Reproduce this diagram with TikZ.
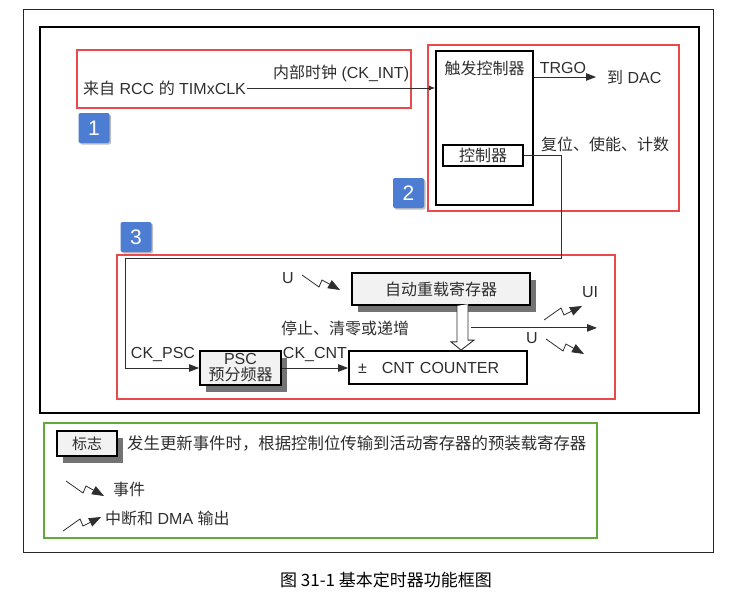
\documentclass[tikz,border=0pt]{standalone}
\usepackage{fontspec}
\setmainfont{Liberation Sans}
\newfontfamily\cjk{Noto Sans CJK SC}
\newcommand{\zh}[1]{{\cjk #1}}
\usetikzlibrary{arrows.meta,calc,positioning,shadows}
\definecolor{framered}{HTML}{E8494B}
\definecolor{badgeblue}{HTML}{4D7DD3}
\definecolor{legendgreen}{HTML}{62A83A}
\definecolor{ink}{HTML}{2E2E2E}
\tikzset{
  box/.style={draw, line width=1.8pt, inner sep=0pt, fill=white},
  regbox/.style={box, fill=black!5, drop shadow={shadow xshift=6pt, shadow yshift=-7pt, fill=black!55, opacity=1}},
  redframe/.style={draw=framered, line width=2.8pt},
  badge/.style={fill=badgeblue, text=white, rounded corners=2pt, minimum width=31pt, minimum height=30pt, inner sep=0pt,
    font=\fontsize{21}{21}\selectfont, drop shadow={shadow xshift=1.5pt, shadow yshift=-1.5pt, fill=black!25, opacity=1}},
  wire/.style={draw=ink, line width=0.9pt},
  fwd/.style={-{Triangle[length=10pt,width=7.5pt]}},
  zig/.style={draw=ink, line width=0.8pt, -{Triangle[length=12pt,width=9pt]}},
  evsym/.pic={\draw[zig] (0,0) -- (17,12) -- (20,5) -- (38,15);},
  irqsym/.pic={\draw[zig] (0,0) -- (17,-12) -- (20,-5) -- (38,-14);}
}
\begin{document}
\begin{tikzpicture}[x=1pt, y=-1pt, font=\fontsize{16}{19}\selectfont, text=ink]
  \useasboundingbox (0,0) rectangle (755,597);
  \draw[black!85, line width=1pt] (23,9) rectangle (713,552);
  \draw[line width=2.8pt] (40,27) rectangle (699,413);
  \draw[redframe] (77,50) rectangle (411,108);
  \draw[redframe] (428,45) rectangle (679,211);
  \draw[redframe] (117,255) rectangle (615,399);
  \draw[draw=legendgreen, line width=2.8pt] (44,423) rectangle (597,538);

  \node[badge] (b1) at (94,128) {1};
  \node[badge] (b2) at (408.5,193) {2};
  \node[badge] (b3) at (136,237) {3};

  \node (clk) [anchor=west, inner sep=1pt] at (82,88) {\zh{来自} RCC \zh{的} TIMxCLK};
  \node (trig) [box, minimum width=97pt, minimum height=154pt] at (484.5,128) {};
  \node (trigtxt) [below=7pt of trig.north] {\zh{触发控制器}};
  \node (ctl) [box, minimum width=80pt, minimum height=21pt] at (483,155.5) {\zh{控制器}};
  \node (dac) [anchor=west, inner sep=1pt] at (606,77) {\zh{到} DAC};
  \node (rst) [anchor=west, inner sep=1pt] at (540,144) {\zh{复位、使能、计数}};

  \node (reload) [regbox, minimum width=178pt, minimum height=32pt] at (441,289) {\zh{自动重载寄存器}};
  \node (cnt) [box, minimum width=178pt, minimum height=33pt, text width=160pt, align=left] at (438,367.5) {±\hspace{15pt}CNT COUNTER};
  \node (psc) [regbox, minimum width=81pt, minimum height=34pt, align=center, font=\fontsize{16}{16}\selectfont] at (240.5,368) {PSC\\\zh{预分频器}};
  \node (ckpsc) at (163,354) {CK\_PSC};
  \node (ckcnt) at (315,355) {CK\_CNT};
  \node (hold) at (345,328) {\zh{停止、清零或递增}};
  \node (u1) at (288,278) {U};
  \node (ui) at (590,292) {UI};
  \node (u2) at (532,338) {U};
  \pic at (302,275) {evsym};
  \pic at (544,320) {irqsym};
  \pic at (546,339) {evsym};

  \node (flag) [regbox, minimum width=60pt, minimum height=25pt, font=\fontsize{15}{15}\selectfont] at (87,443.5) {\zh{标志}};
  \node (flagtxt) [anchor=west, inner sep=1pt, font=\fontsize{16.4}{19}\selectfont] at (126,443) {\zh{发生更新事件时，根据控制位传输到活动寄存器的预装载寄存器}};
  \pic at (66,481) {evsym};
  \node (evtxt) [anchor=west, inner sep=1pt] at (112,489) {\zh{事件}};
  \pic at (63,531) {irqsym};
  \node (irqtxt) [anchor=west, inner sep=1pt] at (104,518) {\zh{中断和} DMA \zh{输出}};
  \node (cap) [text=black, font=\fontsize{17}{19}\selectfont] at (386,580) {\zh{图 31-1 基本定时器功能框图}};

  \coordinate (ctlturn) at (561,258);
  \coordinate (pscturn) at (125,258);
  \begin{scope}[wire]
    \draw[-{Latex[length=6pt,width=5pt]}] (clk.east) -- node[above, yshift=2pt] {\zh{内部时钟} (CK\_INT)} (clk.east -| trig.west);
    \draw[fwd, shorten >=10pt] (dac.west -| trig.east) -- node[above, xshift=-7pt] {TRGO} (dac.west);
    \draw[fwd] (ctl.east) -| (ctlturn) -- (pscturn) |- (psc.west);
    \draw[fwd] (psc.east) -- (psc.east -| cnt.west);
    \draw[fwd] ($(reload.south)+(30,22)$) -- ++(126,0);
    \draw[fill=white] ($(reload.south)+(16,0)$) -- ++(0,36) -- ++(-6,0) -- ($(cnt.north)+(23,0)$) -- ++(13,-10) -- ++(-6,0) -- ++(0,-36);
  \end{scope}
\end{tikzpicture}
\end{document}
